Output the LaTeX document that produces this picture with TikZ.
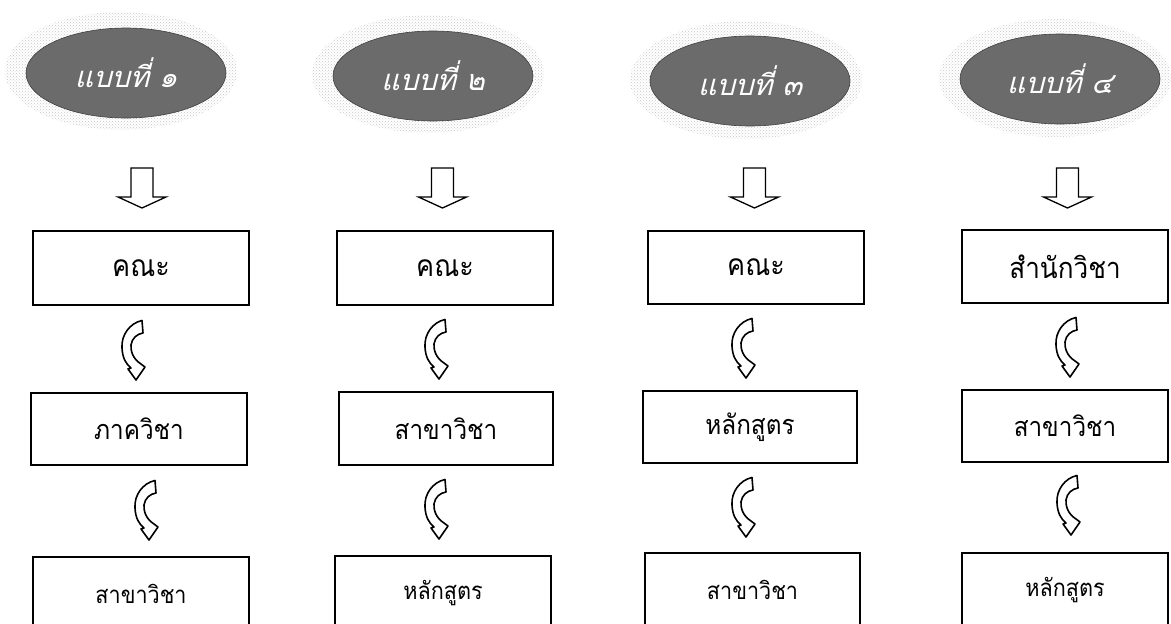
\documentclass[tikz,border=0pt]{standalone}
\usepackage{fontspec}
\newfontfamily\thai[Script=Thai,FakeStretch=0.9]{Loma}
\newfontfamily\thaisl[Script=Thai,FakeSlant=0.25]{Loma}
\usetikzlibrary{shapes.geometric,patterns,calc}
\begin{document}
\begin{tikzpicture}[x=1pt,y=-1pt,
  box/.style={draw=black, line width=1.5pt, minimum width=216pt, minimum height=74pt, inner sep=0pt, font=\thai\fontsize{30}{34}\selectfont},
  boxmid/.style={box, font=\thai\fontsize{27}{30}\selectfont},
  boxbig/.style={box, font=\thai\fontsize{29}{32}\selectfont},
  boxsm/.style={box, font=\thai\fontsize{24}{28}\selectfont},
  oval/.style={ellipse, draw=black!75, line width=0.6pt, fill=black!58, minimum width=200pt, minimum height=90pt, inner sep=0pt, text=white, font=\thaisl\fontsize{29}{32}\selectfont},
  halo/.style={ellipse, pattern=crosshatch dots, pattern color=black!22, minimum width=232pt, minimum height=118pt},
  downarr/.pic={\draw[line width=1.3pt, fill=white, line join=miter] (-11,0) -- (11,0) -- (11,29) -- (24,29) -- (0,40) -- (-24,29) -- (-11,29) -- cycle;},
  carrow/.pic={\draw[line width=1.6pt, fill=white, line join=round] (20,0.5) .. controls (8,3) and (-1,15) .. (0,28) .. controls (0.5,38) and (4,44) .. (9,48) -- (6,49) -- (14,60) -- (23,47) -- (19,44) .. controls (11,39) and (8.5,31) .. (9,25) .. controls (10,18) and (15,14) .. (21,13) -- cycle;}
]
\useasboundingbox (0,0) rectangle (1171,624);
\clip (0,0) rectangle (1171,624);
\fill[white] (0,0) rectangle (1171,624);

% halos
\node[halo] (h1) at (121,71) {};
\node[halo] (h2) at (428,74) {};
\node[halo] (h3) at (746,80) {};
\node[halo] (h4) at (1055,78) {};
% ovals
\node[oval] (e1) at (126,73) {แบบที่ ๑};
\node[oval] (e2) at (433,76) {แบบที่ ๒};
\node[oval] (e3) at (750,81) {แบบที่ ๓};
\node[oval] (e4) at (1060,79) {แบบที่ ๔};

% down arrows
\pic at (142,168) {downarr};
\pic at (442.5,168) {downarr};
\pic at (754.5,168) {downarr};
\pic at (1067.5,168) {downarr};

% column 1
\node[box] (a1) at (141,268) {คณะ};
\node[boxmid, minimum height=72pt] (a2) at (139,429) {ภาควิชา};
\node[boxsm] (a3) at (141,594) {สาขาวิชา};
% column 2
\node[box] (b1) at (445,268) {คณะ};
\node[boxmid, minimum width=214pt, minimum height=73pt] (b2) at (446,428.5) {สาขาวิชา};
\node[boxsm] (b3) at (443,593) {หลักสูตร};
% column 3
\node[box, minimum height=73pt] (c1) at (756,267.5) {คณะ};
\node[boxmid, minimum width=214pt, minimum height=72pt] (c2) at (750,427) {หลักสูตร};
\node[boxsm, minimum width=215pt] (c3) at (752.5,590) {สาขาวิชา};
% column 4
\node[boxbig, minimum width=206pt, minimum height=73pt] (d1) at (1065,266.5) {สำนักวิชา};
\node[boxmid, minimum width=206pt, minimum height=72pt] (d2) at (1065,426) {สาขาวิชา};
\node[boxsm, minimum width=206pt] (d3) at (1065,590) {หลักสูตร};

% curved arrows
\pic at (122,320) {carrow};
\pic at (135,480) {carrow};
\pic at (425,319) {carrow};
\pic at (425,479) {carrow};
\pic at (732,318) {carrow};
\pic at (732,477) {carrow};
\pic at (1056,317) {carrow};
\pic at (1057,475) {carrow};
\end{tikzpicture}
\end{document}
